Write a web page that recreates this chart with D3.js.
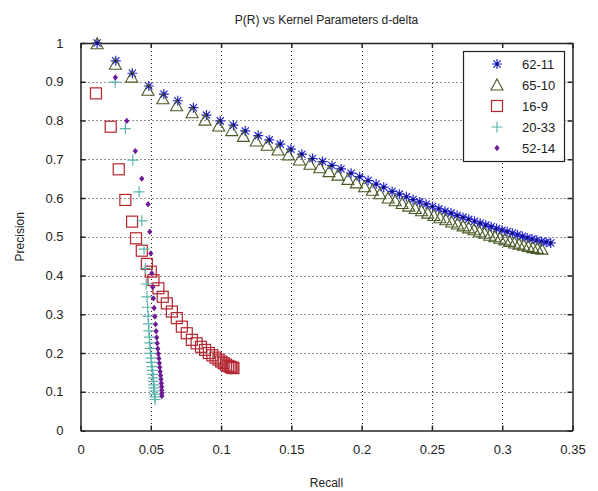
<!DOCTYPE html>
<html>
<head>
<meta charset="utf-8">
<script src="https://cdn.jsdelivr.net/npm/d3@7.9.0/dist/d3.min.js"></script>
<style>
  body { margin: 0; background: #fff; }
  svg text { font-family: "Liberation Sans", Arial, sans-serif; fill: #222; }
</style>
</head>
<body>
<div id="chart"></div>
<script>
// ---------------------------------------------------------
// Data
// ---------------------------------------------------------
const seriesNames = ["62-11", "65-10", "16-9", "20-33", "52-14"];

const recall_62_11 = [0.0118, 0.0251, 0.0369, 0.0486, 0.0593, 0.0692, 0.0803, 0.0896, 0.0994, 0.1088,
  0.1172, 0.1264, 0.1343, 0.1421, 0.1497, 0.1575, 0.1651, 0.1722, 0.1789, 0.1853,
  0.1925, 0.1986, 0.2046, 0.2103, 0.2157, 0.2217, 0.2268, 0.2318, 0.2366, 0.2413,
  0.2459, 0.2504, 0.2549, 0.2593, 0.2636, 0.2679, 0.2721, 0.2762, 0.2803, 0.2843,
  0.2883, 0.2922, 0.2960, 0.2998, 0.3035, 0.3072, 0.3108, 0.3143, 0.3178, 0.3212,
  0.3246, 0.3280, 0.3313, 0.3345];
const precision_62_11 = [1.000, 0.954, 0.922, 0.889, 0.868, 0.851, 0.833, 0.814, 0.799, 0.788,
  0.773, 0.761, 0.750, 0.739, 0.726, 0.713, 0.702, 0.694, 0.684, 0.675,
  0.664, 0.655, 0.645, 0.636, 0.628, 0.617, 0.610, 0.603, 0.596, 0.590,
  0.584, 0.578, 0.572, 0.566, 0.561, 0.555, 0.550, 0.545, 0.540, 0.535,
  0.530, 0.526, 0.521, 0.517, 0.513, 0.509, 0.505, 0.501, 0.497, 0.494,
  0.491, 0.488, 0.486, 0.484];

const recall_65_10 = [0.0118, 0.0248, 0.0364, 0.0480, 0.0586, 0.0684, 0.0794, 0.0886, 0.0983, 0.1076,
  0.1159, 0.1250, 0.1328, 0.1405, 0.1480, 0.1557, 0.1632, 0.1702, 0.1768, 0.1831,
  0.1902, 0.1962, 0.2021, 0.2077, 0.2130, 0.2189, 0.2239, 0.2288, 0.2335, 0.2381,
  0.2426, 0.2470, 0.2514, 0.2557, 0.2599, 0.2641, 0.2682, 0.2722, 0.2761, 0.2800,
  0.2838, 0.2875, 0.2912, 0.2948, 0.2984, 0.3019, 0.3053, 0.3087, 0.3120, 0.3153,
  0.3186, 0.3218, 0.3250, 0.3282];
const precision_65_10 = [0.998, 0.945, 0.912, 0.878, 0.856, 0.838, 0.820, 0.801, 0.786, 0.774,
  0.759, 0.747, 0.736, 0.724, 0.711, 0.698, 0.687, 0.678, 0.668, 0.659,
  0.648, 0.639, 0.629, 0.620, 0.611, 0.600, 0.593, 0.586, 0.579, 0.573,
  0.567, 0.561, 0.555, 0.549, 0.544, 0.538, 0.533, 0.528, 0.523, 0.518,
  0.513, 0.509, 0.504, 0.500, 0.496, 0.492, 0.488, 0.484, 0.481, 0.478,
  0.475, 0.472, 0.470, 0.468];

const recall_16_9 = [0.0110, 0.0215, 0.0272, 0.0319, 0.0367, 0.0395, 0.0436, 0.0472, 0.0500, 0.0519,
  0.0554, 0.0585, 0.0614, 0.0650, 0.0685, 0.0721, 0.0756, 0.0792, 0.0826, 0.0857,
  0.0886, 0.0913, 0.0938, 0.0961, 0.0982, 0.1001, 0.1018, 0.1034, 0.1048, 0.1061,
  0.1072, 0.1081, 0.1088];
const precision_16_9 = [0.870, 0.784, 0.674, 0.595, 0.539, 0.496, 0.464, 0.430, 0.410, 0.388,
  0.367, 0.345, 0.328, 0.307, 0.290, 0.268, 0.251, 0.234, 0.225, 0.216,
  0.208, 0.200, 0.194, 0.188, 0.183, 0.178, 0.174, 0.170, 0.167, 0.165,
  0.163, 0.162, 0.161];

const recall_20_33 = [0.0246, 0.0319, 0.0372, 0.0417, 0.0436, 0.0452, 0.0462, 0.0468, 0.0473, 0.0477,
  0.0481, 0.0484, 0.0487, 0.0490, 0.0493, 0.0496, 0.0499, 0.0502, 0.0505, 0.0508,
  0.0511, 0.0514, 0.0517, 0.0519, 0.0521, 0.0523, 0.0525, 0.0527, 0.0529, 0.0531];
const precision_20_33 = [0.899, 0.779, 0.698, 0.616, 0.541, 0.468, 0.418, 0.378, 0.345, 0.318,
  0.295, 0.275, 0.257, 0.241, 0.226, 0.212, 0.199, 0.187, 0.176, 0.165,
  0.155, 0.145, 0.136, 0.127, 0.118, 0.110, 0.102, 0.094, 0.087, 0.080];

const recall_52_14 = [0.0248, 0.0329, 0.0390, 0.0436, 0.0481, 0.0493, 0.0500, 0.0507, 0.0514, 0.0519,
  0.0524, 0.0529, 0.0534, 0.0538, 0.0542, 0.0546, 0.0550, 0.0554, 0.0558, 0.0561,
  0.0564, 0.0567, 0.0570, 0.0573, 0.0575, 0.0577, 0.0578, 0.0579, 0.0579];
const precision_52_14 = [0.911, 0.799, 0.721, 0.650, 0.584, 0.513, 0.457, 0.406, 0.370, 0.341,
  0.316, 0.294, 0.274, 0.256, 0.240, 0.225, 0.211, 0.198, 0.186, 0.174,
  0.163, 0.152, 0.142, 0.132, 0.122, 0.113, 0.104, 0.096, 0.089];

const xTicks = [0, 0.05, 0.1, 0.15, 0.2, 0.25, 0.3, 0.35];
const yTicks = [0, 0.1, 0.2, 0.3, 0.4, 0.5, 0.6, 0.7, 0.8, 0.9, 1];

// ---------------------------------------------------------
// Layout
// ---------------------------------------------------------
const width = 598, height = 491;
const plot = { left: 80.5, right: 572.5, top: 43, bottom: 430.5 };

const series = [
  { name: seriesNames[0], xs: recall_62_11, ys: precision_62_11, marker: "star", color: "#2424d6" },
  { name: seriesNames[1], xs: recall_65_10, ys: precision_65_10, marker: "triangle", color: "#4a5a26" },
  { name: seriesNames[2], xs: recall_16_9, ys: precision_16_9, marker: "square", color: "#b3242e" },
  { name: seriesNames[3], xs: recall_20_33, ys: precision_20_33, marker: "plus", color: "#5ab5ad" },
  { name: seriesNames[4], xs: recall_52_14, ys: precision_52_14, marker: "dot", color: "#6e1a96" }
];

const svg = d3.select("#chart").append("svg")
  .attr("width", width)
  .attr("height", height);

const x = d3.scaleLinear().domain([0, 0.35]).range([plot.left, plot.right]);
const y = d3.scaleLinear().domain([0, 1]).range([plot.bottom, plot.top]);

// grid
const grid = svg.append("g").attr("class", "grid")
  .attr("stroke", "#222").attr("stroke-width", 1).attr("stroke-dasharray", "1,3");
grid.selectAll("line.gx").data(xTicks.slice(1, -1)).join("line")
  .attr("x1", d => Math.round(x(d)) + 0.5).attr("x2", d => Math.round(x(d)) + 0.5)
  .attr("y1", plot.top).attr("y2", plot.bottom);
grid.selectAll("line.gy").data(yTicks.slice(1, -1)).join("line")
  .attr("y1", d => Math.round(y(d)) + 0.5).attr("y2", d => Math.round(y(d)) + 0.5)
  .attr("x1", plot.left).attr("x2", plot.right);

// axes (ticks inside, box on all sides)
const tickFmt = d => d === 0 ? "0" : String(d);
const axB = svg.append("g").attr("transform", `translate(0,${plot.bottom})`)
  .call(d3.axisBottom(x).tickValues(xTicks).tickSizeInner(-5).tickSizeOuter(0).tickPadding(14).tickFormat(tickFmt));
const axT = svg.append("g").attr("transform", `translate(0,${plot.top})`)
  .call(d3.axisTop(x).tickValues(xTicks).tickSizeInner(-5).tickSizeOuter(0).tickFormat(""));
const axL = svg.append("g").attr("transform", `translate(${plot.left},0)`)
  .call(d3.axisLeft(y).tickValues(yTicks).tickSizeInner(-5).tickSizeOuter(0).tickPadding(17).tickFormat(tickFmt));
const axR = svg.append("g").attr("transform", `translate(${plot.right},0)`)
  .call(d3.axisRight(y).tickValues(yTicks).tickSizeInner(-5).tickSizeOuter(0).tickFormat(""));

[axB, axT, axL, axR].forEach(a => {
  a.select(".domain").attr("stroke", "#222").attr("stroke-width", 1.5);
  a.selectAll(".tick line").attr("stroke", "#222").attr("stroke-width", 1.5);
  a.selectAll(".tick text").attr("font-size", 13).attr("fill", "#222")
    .style("font-family", "'Liberation Sans', Arial, sans-serif");
});

// titles
svg.append("text")
  .attr("x", (plot.left + plot.right) / 2).attr("y", 24)
  .attr("text-anchor", "middle").attr("font-size", 12)
  .text("P(R) vs Kernel Parameters d-delta");
svg.append("text")
  .attr("x", (plot.left + plot.right) / 2).attr("y", 487)
  .attr("text-anchor", "middle").attr("font-size", 12)
  .text("Recall");
svg.append("text")
  .attr("transform", `translate(24,${(plot.top + plot.bottom) / 2}) rotate(-90)`)
  .attr("text-anchor", "middle").attr("font-size", 12)
  .text("Precision");

// ---------------------------------------------------------
// Markers
// ---------------------------------------------------------
function drawMarker(g, type, color) {
  if (type === "star") {
    const s = 5, d = 3.6;
    g.append("path")
      .attr("d", `M${-s},0H${s}M0,${-s}V${s}M${-d},${-d}L${d},${d}M${-d},${d}L${d},${-d}`)
      .attr("stroke", color).attr("stroke-width", 1.2).attr("fill", "none");
    g.append("circle").attr("r", 1.6).attr("fill", "#101070");
  } else if (type === "triangle") {
    g.append("path").attr("d", "M0,-6L6,5L-6,5Z")
      .attr("stroke", color).attr("stroke-width", 1.1).attr("fill", "none");
  } else if (type === "square") {
    g.append("rect").attr("x", -5.5).attr("y", -5.5).attr("width", 11).attr("height", 11)
      .attr("stroke", color).attr("stroke-width", 1.2).attr("fill", "none");
  } else if (type === "plus") {
    g.append("path").attr("d", "M-5.5,0H5.5M0,-5.5V5.5")
      .attr("stroke", color).attr("stroke-width", 1.2).attr("fill", "none");
  } else {
    g.append("path").attr("d", "M0,-3.2L2.6,0L0,3.2L-2.6,0Z").attr("fill", color);
  }
}

const marks = svg.append("g").attr("class", "marks");
series.forEach(s => {
  const pts = s.xs.map((v, i) => ({ r: v, p: s.ys[i] }));
  marks.append("g").selectAll("g")
    .data(pts)
    .join("g")
    .attr("transform", d => `translate(${x(d.r)},${y(d.p)})`)
    .each(function () { drawMarker(d3.select(this), s.marker, s.color); });
});

// ---------------------------------------------------------
// Legend
// ---------------------------------------------------------
const legend = svg.append("g");
legend.append("rect")
  .attr("x", 463.5).attr("y", 51.5).attr("width", 101).attr("height", 110)
  .attr("fill", "#fff").attr("stroke", "#222").attr("stroke-width", 1.2);
series.forEach((s, i) => {
  const ly = 64 + i * 21;
  const g = legend.append("g").attr("transform", `translate(497,${ly})`);
  drawMarker(g, s.marker, s.color);
  legend.append("text")
    .attr("x", 522).attr("y", ly + 4.5)
    .attr("font-size", 13)
    .text(s.name);
});
</script>
</body>
</html>
